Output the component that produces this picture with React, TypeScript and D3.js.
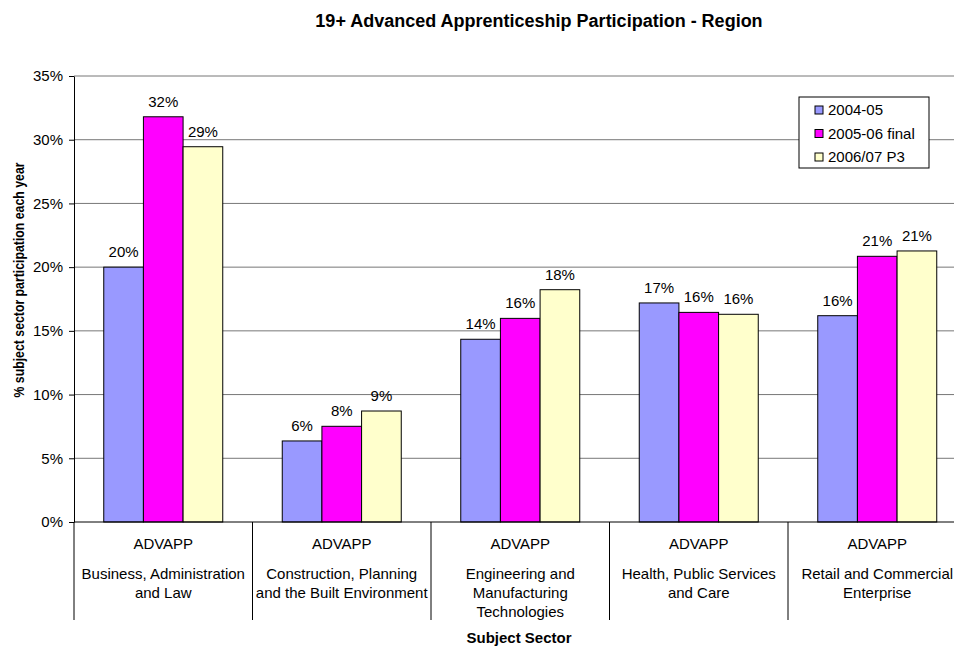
import React, { useEffect, useRef } from 'react';
import * as d3 from 'd3';

const categories = [
  'Business, Administration|and Law',
  'Construction, Planning|and the Built Environment',
  'Engineering and|Manufacturing|Technologies',
  'Health, Public Services|and Care',
  'Retail and Commercial|Enterprise',
];
const seriesNames = ['2004-05', '2005-06 final', '2006/07 P3'];
const colors = ['#9999ff', '#ff00ff', '#ffffcc'];
const values2004 = [20.0, 6.36, 14.34, 17.19, 16.19];
const values2005 = [31.8, 7.51, 15.98, 16.45, 20.85];
const values2006 = [29.45, 8.71, 18.23, 16.3, 21.27];
const yTicks = [0, 5, 10, 15, 20, 25, 30, 35];

const FONT = '"Liberation Sans", Arial, sans-serif';

export default function App() {
  const svgRef = useRef<SVGSVGElement>(null);

  useEffect(() => {
    if (!svgRef.current) return;
    const width = 954;
    const height = 646;
    const left = 74;
    const top = 76;
    const bottom = 522;
    const step = 178.5;

    const svg = d3.select(svgRef.current);
    svg.selectAll('*').remove();
    svg.attr('width', width).attr('height', height).style('font-family', FONT);

    const series = [values2004, values2005, values2006];

    const x = d3.scaleBand<number>()
      .domain(categories.map((_, i) => i))
      .range([left, left + step * categories.length])
      .padding(0);

    // Excel-style gap width: 150% of a bar between groups
    const xInner = d3.scaleBand<number>()
      .domain(seriesNames.map((_, i) => i))
      .range([0, x.bandwidth()])
      .paddingInner(0)
      .paddingOuter(0.75);

    const y = d3.scaleLinear().domain([0, 35]).range([bottom, top]);

    // gridlines
    svg.append('g')
      .selectAll('line')
      .data(yTicks.filter(t => t > 0))
      .enter().append('line')
      .attr('x1', left)
      .attr('x2', left + step * categories.length)
      .attr('y1', d => y(d))
      .attr('y2', d => y(d))
      .attr('stroke', '#777')
      .attr('stroke-width', 1);

    // bars + value labels
    series.forEach((vals, s) => {
      svg.append('g')
        .selectAll('rect')
        .data(vals)
        .enter().append('rect')
        .attr('x', (_, i) => (x(i) as number) + (xInner(s) as number))
        .attr('y', d => y(d))
        .attr('width', xInner.bandwidth())
        .attr('height', d => bottom - y(d))
        .attr('fill', colors[s])
        .attr('stroke', '#000')
        .attr('stroke-width', 1);

      svg.append('g')
        .selectAll('text')
        .data(vals)
        .enter().append('text')
        .attr('x', (_, i) => (x(i) as number) + (xInner(s) as number) + xInner.bandwidth() / 2)
        .attr('y', d => y(d) - 10)
        .attr('text-anchor', 'middle')
        .attr('font-size', 15)
        .attr('fill', '#000')
        .text(d => `${Math.round(d)}%`);
    });

    // y axis
    const yAxis = svg.append('g')
      .attr('transform', `translate(${left},0)`)
      .call(d3.axisLeft(y).tickValues(yTicks).tickSize(5).tickSizeOuter(0).tickFormat(d => `${d}%`));
    yAxis.select('.domain').attr('stroke', '#000');
    yAxis.selectAll('.tick line').attr('stroke', '#000');
    yAxis.selectAll('.tick text')
      .attr('font-size', 15)
      .attr('font-family', FONT)
      .attr('fill', '#000')
      .attr('x', -11);

    // x axis baseline + category dividers
    svg.append('line')
      .attr('x1', left).attr('x2', left + step * categories.length)
      .attr('y1', bottom).attr('y2', bottom)
      .attr('stroke', '#000');

    const boundaries = d3.range(categories.length + 1).map(i => left + step * i);
    svg.append('g')
      .selectAll('line')
      .data(boundaries)
      .enter().append('line')
      .attr('x1', d => d).attr('x2', d => d)
      .attr('y1', bottom).attr('y2', 620)
      .attr('stroke', '#000');

    const labels = svg.append('g')
      .selectAll('g')
      .data(categories)
      .enter().append('g')
      .attr('transform', (_, i) => `translate(${(x(i) as number) + x.bandwidth() / 2},0)`);

    labels.append('text')
      .attr('y', 549)
      .attr('text-anchor', 'middle')
      .attr('font-size', 15)
      .text('ADVAPP');

    labels.each(function (d) {
      const g = d3.select(this);
      d.split('|').forEach((line, j) => {
        g.append('text')
          .attr('y', 579 + j * 19)
          .attr('text-anchor', 'middle')
          .attr('font-size', 15)
          .text(line);
      });
    });

    // axis titles
    svg.append('text')
      .attr('x', 519)
      .attr('y', 643)
      .attr('text-anchor', 'middle')
      .attr('font-size', 15)
      .attr('font-weight', 'bold')
      .text('Subject Sector');

    svg.append('text')
      .attr('transform', `translate(24,280) rotate(-90)`)
      .attr('text-anchor', 'middle')
      .attr('font-size', 14)
      .attr('font-weight', 'bold')
      .attr('textLength', 235)
      .attr('lengthAdjust', 'spacingAndGlyphs')
      .text('% subject sector participation each year');

    svg.append('text')
      .attr('x', 539)
      .attr('y', 27)
      .attr('text-anchor', 'middle')
      .attr('font-size', 18)
      .attr('font-weight', 'bold')
      .text('19+ Advanced Apprenticeship Participation - Region');

    // legend
    const legend = svg.append('g').attr('transform', 'translate(799,97)');
    legend.append('rect')
      .attr('width', 130).attr('height', 71)
      .attr('fill', '#fff').attr('stroke', '#000');
    seriesNames.forEach((name, i) => {
      const cy = 13 + i * 23.5;
      legend.append('rect')
        .attr('x', 16).attr('y', cy - 4)
        .attr('width', 8).attr('height', 8)
        .attr('fill', colors[i]).attr('stroke', '#000');
      legend.append('text')
        .attr('x', 29).attr('y', cy + 5)
        .attr('font-size', 15)
        .text(name);
    });
  }, []);

  return (
    <div style={{ position: 'absolute', left: 0, top: 0, background: '#fff' }}>
      <svg ref={svgRef} style={{ display: 'block' }}></svg>
    </div>
  );
}
